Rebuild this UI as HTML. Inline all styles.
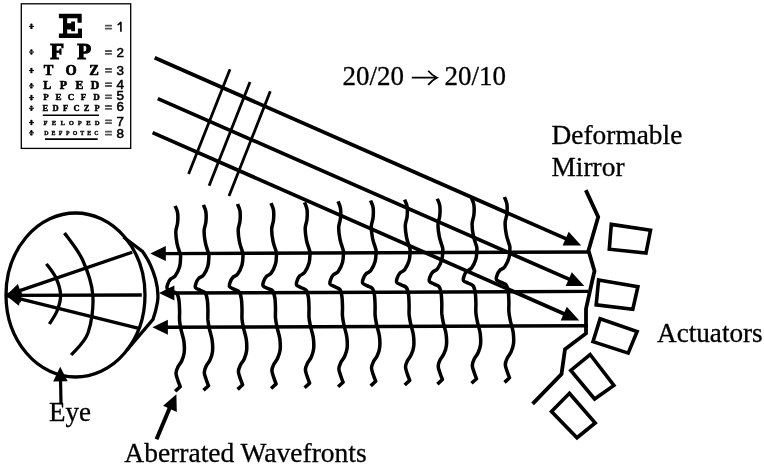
<!DOCTYPE html>
<html><head><meta charset="utf-8"><style>
html,body{margin:0;padding:0;background:#fff;}
body{width:764px;height:464px;overflow:hidden;font-family:"Liberation Serif",serif;}
svg{display:block;will-change:transform;}
</style></head><body>
<svg width="764" height="464" viewBox="0 0 764 464">
<rect width="764" height="464" fill="#fff"/>
<g stroke="#000" fill="none" stroke-linecap="butt">
<line x1="154.7" y1="57.8" x2="567.5" y2="239.4" stroke-width="3.7"/><polygon fill="#000" stroke="none" points="581.2,245.4 562.6,245.4 568.7,231.7"/>
<line x1="157.8" y1="98.6" x2="570.6" y2="279.9" stroke-width="3.7"/><polygon fill="#000" stroke="none" points="584.3,285.9 565.7,285.9 571.8,272.2"/>
<line x1="152.6" y1="132.6" x2="565.6" y2="314.5" stroke-width="3.7"/><polygon fill="#000" stroke="none" points="579.3,320.5 560.7,320.5 566.8,306.8"/>
<line x1="230.0" y1="69.3" x2="188.6" y2="173.9" stroke-width="2.8"/>
<line x1="250.0" y1="81.9" x2="209.1" y2="185.8" stroke-width="2.8"/>
<line x1="270.3" y1="91.3" x2="229.0" y2="195.9" stroke-width="2.8"/>
<line x1="588.0" y1="252.0" x2="163.3" y2="253.6" stroke-width="3.4"/>
<line x1="588.0" y1="291.4" x2="171.9" y2="293.0" stroke-width="3.4"/>
<line x1="588.0" y1="325.7" x2="165.4" y2="327.3" stroke-width="3.4"/>
</g>
<g fill="#000">
<polygon points="150.3,253.6 165.8,246.1 165.8,261.1"/>
<polygon points="158.9,293.0 174.4,285.5 174.4,300.5"/>
<polygon points="152.4,327.3 167.9,319.8 167.9,334.8"/>
</g>
<g stroke="#000" fill="none" stroke-width="3.5" stroke-linejoin="round">
<path d="M175.1,205.8 C175.5,206.9 177.2,209.9 177.6,212.8 C178.0,215.6 177.9,219.6 177.6,222.8 C177.3,225.9 175.9,228.3 175.8,231.8 C175.7,235.3 176.4,240.1 177.1,243.8 C177.8,247.4 179.5,251.5 180.1,253.8 C180.7,256.0 180.7,255.1 180.6,257.3 C180.5,259.4 180.5,263.7 179.6,266.8 C178.7,269.9 176.8,273.7 175.3,275.8 C173.8,277.9 171.7,277.9 170.4,279.3 C169.1,280.7 168.2,282.6 167.7,284.2 C167.2,285.7 166.5,287.3 167.2,288.5 C167.9,289.6 170.4,290.3 172.0,291.2 C173.6,292.1 175.7,292.2 176.9,293.8 C178.1,295.4 178.6,297.9 179.0,300.8 C179.4,303.6 179.5,307.4 179.6,310.8 C179.7,314.1 179.3,317.6 179.6,320.8 C179.8,323.9 180.4,326.4 181.1,329.8 C181.8,333.2 183.4,337.5 183.9,341.3 C184.4,345.1 184.5,349.3 184.2,352.6 C183.8,355.8 182.9,358.2 181.8,360.7 C180.7,363.1 178.8,365.1 177.8,367.2 C176.8,369.3 176.0,371.1 176.0,373.3 C176.0,375.4 177.1,377.9 177.8,380.1 C178.5,382.3 179.8,385.5 180.2,386.6 L175.2,391.2"/>
<path d="M203.4,204.9 C203.8,206.1 205.5,209.1 205.9,211.9 C206.3,214.7 206.2,218.7 205.9,221.9 C205.6,225.1 204.2,227.4 204.1,230.9 C204.0,234.4 204.7,239.2 205.4,242.9 C206.1,246.6 207.8,250.7 208.4,252.9 C209.0,255.2 209.0,254.2 208.9,256.4 C208.8,258.6 208.8,262.8 207.9,265.9 C207.0,269.0 205.1,272.8 203.6,274.9 C202.1,277.0 200.0,277.0 198.7,278.4 C197.4,279.8 196.5,281.8 196.0,283.3 C195.5,284.8 194.8,286.4 195.5,287.6 C196.2,288.8 198.7,289.4 200.3,290.3 C201.9,291.2 204.0,291.3 205.2,292.9 C206.4,294.5 206.9,297.1 207.3,299.9 C207.8,302.7 207.8,306.6 207.9,309.9 C208.0,313.2 207.7,316.7 207.9,319.9 C208.2,323.1 208.7,325.5 209.4,328.9 C210.1,332.3 211.7,336.6 212.2,340.4 C212.7,344.2 212.8,348.5 212.5,351.7 C212.2,354.9 211.2,357.4 210.1,359.8 C209.0,362.2 207.1,364.2 206.1,366.3 C205.1,368.4 204.3,370.2 204.3,372.4 C204.3,374.5 205.4,377.0 206.1,379.2 C206.8,381.4 208.1,384.6 208.5,385.7 L203.5,390.3"/>
<path d="M237.5,204.0 C237.9,205.2 239.6,208.2 240.0,211.0 C240.4,213.9 240.3,217.9 240.0,221.0 C239.7,224.2 238.3,226.5 238.2,230.0 C238.1,233.5 238.8,238.4 239.5,242.0 C240.2,245.7 241.9,249.8 242.5,252.0 C243.1,254.3 243.1,253.4 243.0,255.5 C242.9,257.7 242.9,261.9 242.0,265.0 C241.1,268.1 239.2,271.9 237.7,274.0 C236.2,276.1 234.1,276.1 232.8,277.5 C231.5,278.9 230.6,280.9 230.1,282.4 C229.6,284.0 228.9,285.6 229.6,286.7 C230.3,287.9 232.8,288.5 234.4,289.4 C236.0,290.3 238.1,290.4 239.3,292.0 C240.5,293.6 241.0,296.2 241.4,299.0 C241.8,301.9 241.9,305.7 242.0,309.0 C242.1,312.4 241.8,315.9 242.0,319.0 C242.2,322.2 242.8,324.6 243.5,328.0 C244.2,331.4 245.8,335.7 246.3,339.5 C246.8,343.3 246.9,347.6 246.6,350.8 C246.2,354.1 245.3,356.5 244.2,358.9 C243.1,361.4 241.2,363.3 240.2,365.4 C239.2,367.5 238.4,369.4 238.4,371.5 C238.4,373.7 239.5,376.1 240.2,378.3 C240.9,380.5 242.2,383.7 242.6,384.8 L237.6,389.4"/>
<path d="M271.0,203.1 C271.4,204.3 273.1,207.3 273.5,210.1 C273.9,213.0 273.8,217.0 273.5,220.1 C273.2,223.3 271.8,225.6 271.7,229.1 C271.6,232.6 272.3,237.5 273.0,241.1 C273.7,244.8 275.4,248.9 276.0,251.1 C276.6,253.4 276.6,252.5 276.5,254.6 C276.4,256.8 276.4,261.1 275.5,264.1 C274.6,267.2 272.7,271.1 271.2,273.1 C269.7,275.2 267.6,275.2 266.3,276.6 C265.0,278.0 264.1,280.0 263.6,281.5 C263.1,283.1 262.4,284.7 263.1,285.8 C263.8,287.0 266.3,287.7 267.9,288.5 C269.5,289.4 271.6,289.5 272.8,291.1 C274.0,292.7 274.4,295.3 274.9,298.1 C275.3,301.0 275.4,304.8 275.5,308.1 C275.6,311.5 275.2,315.0 275.5,318.1 C275.8,321.3 276.3,323.7 277.0,327.1 C277.7,330.6 279.3,334.8 279.8,338.6 C280.3,342.4 280.5,346.7 280.1,349.9 C279.8,353.2 278.8,355.6 277.7,358.0 C276.6,360.5 274.7,362.4 273.7,364.5 C272.7,366.6 271.9,368.5 271.9,370.6 C271.9,372.8 273.0,375.2 273.7,377.4 C274.4,379.7 275.7,382.9 276.1,383.9 L271.1,388.5"/>
<path d="M304.5,202.3 C304.9,203.4 306.6,206.4 307.0,209.3 C307.4,212.1 307.3,216.1 307.0,219.3 C306.7,222.4 305.3,224.8 305.2,228.3 C305.1,231.8 305.8,236.6 306.5,240.3 C307.2,243.9 308.9,248.0 309.5,250.3 C310.1,252.5 310.1,251.6 310.0,253.8 C309.9,255.9 309.9,260.2 309.0,263.3 C308.1,266.3 306.2,270.2 304.7,272.3 C303.2,274.3 301.1,274.4 299.8,275.8 C298.5,277.2 297.6,279.1 297.1,280.7 C296.6,282.2 295.9,283.8 296.6,285.0 C297.3,286.1 299.8,286.8 301.4,287.7 C303.0,288.5 305.1,288.7 306.3,290.3 C307.5,291.9 307.9,294.4 308.4,297.3 C308.8,300.1 308.9,303.9 309.0,307.3 C309.1,310.6 308.8,314.1 309.0,317.3 C309.2,320.4 309.8,322.8 310.5,326.3 C311.2,329.7 312.8,334.0 313.3,337.8 C313.8,341.6 314.0,345.8 313.6,349.1 C313.2,352.3 312.3,354.7 311.2,357.2 C310.1,359.6 308.2,361.6 307.2,363.7 C306.2,365.8 305.4,367.6 305.4,369.8 C305.4,371.9 306.5,374.3 307.2,376.6 C307.9,378.8 309.2,382.0 309.6,383.1 L304.6,387.7"/>
<path d="M338.0,201.4 C338.4,202.5 340.1,205.5 340.5,208.4 C340.9,211.2 340.8,215.2 340.5,218.4 C340.2,221.5 338.8,223.9 338.7,227.4 C338.6,230.9 339.3,235.7 340.0,239.4 C340.7,243.0 342.4,247.1 343.0,249.4 C343.6,251.6 343.6,250.7 343.5,252.9 C343.4,255.0 343.4,259.3 342.5,262.4 C341.6,265.5 339.7,269.3 338.2,271.4 C336.7,273.5 334.6,273.5 333.3,274.9 C332.0,276.3 331.1,278.2 330.6,279.8 C330.1,281.3 329.4,282.9 330.1,284.1 C330.8,285.2 333.3,285.9 334.9,286.8 C336.5,287.7 338.6,287.8 339.8,289.4 C341.0,291.0 341.4,293.5 341.9,296.4 C342.3,299.2 342.4,303.0 342.5,306.4 C342.6,309.7 342.2,313.2 342.5,316.4 C342.8,319.5 343.3,322.0 344.0,325.4 C344.7,328.8 346.3,333.1 346.8,336.9 C347.3,340.7 347.5,344.9 347.1,348.2 C346.8,351.4 345.8,353.8 344.7,356.3 C343.6,358.7 341.7,360.7 340.7,362.8 C339.7,364.9 338.9,366.7 338.9,368.9 C338.9,371.0 340.0,373.5 340.7,375.7 C341.4,377.9 342.7,381.1 343.1,382.2 L338.1,386.8"/>
<path d="M370.6,200.5 C371.0,201.7 372.7,204.7 373.1,207.5 C373.5,210.3 373.4,214.3 373.1,217.5 C372.8,220.7 371.4,223.0 371.3,226.5 C371.2,230.0 371.9,234.8 372.6,238.5 C373.3,242.2 375.0,246.2 375.6,248.5 C376.2,250.8 376.2,249.8 376.1,252.0 C376.0,254.2 376.0,258.4 375.1,261.5 C374.2,264.6 372.3,268.4 370.8,270.5 C369.3,272.6 367.2,272.6 365.9,274.0 C364.6,275.4 363.7,277.4 363.2,278.9 C362.7,280.4 362.0,282.0 362.7,283.2 C363.4,284.4 365.9,285.0 367.5,285.9 C369.1,286.8 371.2,286.9 372.4,288.5 C373.6,290.1 374.1,292.7 374.5,295.5 C374.9,298.3 375.0,302.2 375.1,305.5 C375.2,308.8 374.9,312.3 375.1,315.5 C375.4,318.7 375.9,321.1 376.6,324.5 C377.3,327.9 378.9,332.2 379.4,336.0 C379.9,339.8 380.1,344.1 379.7,347.3 C379.4,350.5 378.4,353.0 377.3,355.4 C376.2,357.8 374.3,359.8 373.3,361.9 C372.3,364.0 371.5,365.9 371.5,368.0 C371.5,370.1 372.6,372.6 373.3,374.8 C374.0,377.0 375.3,380.2 375.7,381.3 L370.7,385.9"/>
<path d="M404.6,199.6 C405.0,200.8 406.7,203.8 407.1,206.6 C407.5,209.5 407.4,213.5 407.1,216.6 C406.8,219.8 405.4,222.1 405.3,225.6 C405.2,229.1 405.9,234.0 406.6,237.6 C407.3,241.3 409.0,245.4 409.6,247.6 C410.2,249.9 410.2,249.0 410.1,251.1 C410.0,253.3 410.0,257.5 409.1,260.6 C408.2,263.7 406.3,267.5 404.8,269.6 C403.3,271.7 401.2,271.7 399.9,273.1 C398.6,274.5 397.7,276.5 397.2,278.0 C396.7,279.6 396.0,281.2 396.7,282.3 C397.4,283.5 399.9,284.1 401.5,285.0 C403.1,285.9 405.2,286.0 406.4,287.6 C407.6,289.2 408.1,291.8 408.5,294.6 C408.9,297.5 409.0,301.3 409.1,304.6 C409.2,308.0 408.9,311.5 409.1,314.6 C409.4,317.8 409.9,320.2 410.6,323.6 C411.3,327.0 412.9,331.3 413.4,335.1 C413.9,338.9 414.1,343.2 413.7,346.4 C413.4,349.7 412.4,352.1 411.3,354.5 C410.2,357.0 408.3,358.9 407.3,361.0 C406.3,363.1 405.5,365.0 405.5,367.1 C405.5,369.3 406.6,371.7 407.3,373.9 C408.0,376.1 409.3,379.3 409.7,380.4 L404.7,385.0"/>
<path d="M437.3,198.7 C437.7,199.9 439.4,202.9 439.8,205.7 C440.2,208.6 440.1,212.6 439.8,215.7 C439.5,218.9 438.1,221.2 438.0,224.7 C437.9,228.2 438.6,233.1 439.3,236.7 C440.0,240.4 441.7,244.5 442.3,246.7 C442.9,249.0 442.9,248.1 442.8,250.2 C442.7,252.4 442.7,256.7 441.8,259.7 C440.9,262.8 439.0,266.7 437.5,268.7 C436.0,270.8 433.9,270.8 432.6,272.2 C431.3,273.6 430.4,275.6 429.9,277.1 C429.4,278.7 428.7,280.3 429.4,281.4 C430.1,282.6 432.6,283.3 434.2,284.1 C435.8,285.0 437.9,285.1 439.1,286.7 C440.3,288.3 440.8,290.9 441.2,293.7 C441.6,296.6 441.7,300.4 441.8,303.7 C441.9,307.1 441.6,310.6 441.8,313.7 C442.1,316.9 442.6,319.3 443.3,322.7 C444.0,326.2 445.6,330.4 446.1,334.2 C446.6,338.0 446.8,342.3 446.4,345.5 C446.1,348.8 445.1,351.2 444.0,353.6 C442.9,356.1 441.0,358.0 440.0,360.1 C439.0,362.2 438.2,364.1 438.2,366.2 C438.2,368.4 439.3,370.8 440.0,373.0 C440.7,375.3 442.0,378.5 442.4,379.5 L437.4,384.1"/>
<path d="M471.4,197.9 C471.8,199.0 473.5,202.0 473.9,204.9 C474.3,207.7 474.2,211.7 473.9,214.9 C473.6,218.0 472.2,220.4 472.1,223.9 C472.0,227.4 472.7,232.2 473.4,235.9 C474.1,239.5 475.8,243.6 476.4,245.9 C477.0,248.1 477.0,247.2 476.9,249.4 C476.8,251.5 476.8,255.8 475.9,258.9 C475.0,261.9 473.1,265.8 471.6,267.9 C470.1,269.9 468.0,270.0 466.7,271.4 C465.4,272.8 464.5,274.7 464.0,276.3 C463.5,277.8 462.8,279.4 463.5,280.6 C464.2,281.7 466.7,282.4 468.3,283.3 C469.9,284.1 472.0,284.3 473.2,285.9 C474.4,287.5 474.8,290.0 475.3,292.9 C475.7,295.7 475.8,299.5 475.9,302.9 C476.0,306.2 475.6,309.7 475.9,312.9 C476.1,316.0 476.7,318.4 477.4,321.9 C478.1,325.3 479.7,329.6 480.2,333.4 C480.7,337.2 480.9,341.4 480.5,344.7 C480.1,347.9 479.2,350.3 478.1,352.8 C477.0,355.2 475.1,357.2 474.1,359.3 C473.1,361.4 472.3,363.2 472.3,365.4 C472.3,367.5 473.4,369.9 474.1,372.2 C474.8,374.4 476.1,377.6 476.5,378.7 L471.5,383.3"/>
<path d="M504.4,197.0 C504.8,198.1 506.5,201.1 506.9,204.0 C507.3,206.8 507.2,210.8 506.9,214.0 C506.6,217.1 505.2,219.5 505.1,223.0 C505.0,226.5 505.7,231.3 506.4,235.0 C507.1,238.6 508.8,242.7 509.4,245.0 C510.0,247.2 510.0,246.3 509.9,248.5 C509.8,250.6 509.8,254.9 508.9,258.0 C508.0,261.1 506.1,264.9 504.6,267.0 C503.1,269.1 501.0,269.1 499.7,270.5 C498.4,271.9 497.5,273.8 497.0,275.4 C496.5,276.9 495.8,278.5 496.5,279.7 C497.2,280.8 499.7,281.5 501.3,282.4 C502.9,283.3 505.0,283.4 506.2,285.0 C507.4,286.6 507.8,289.1 508.3,292.0 C508.7,294.8 508.8,298.6 508.9,302.0 C509.0,305.3 508.6,308.8 508.9,312.0 C509.1,315.1 509.7,317.6 510.4,321.0 C511.1,324.4 512.7,328.7 513.2,332.5 C513.7,336.3 513.9,340.5 513.5,343.8 C513.1,347.0 512.2,349.4 511.1,351.9 C510.0,354.3 508.1,356.3 507.1,358.4 C506.1,360.5 505.3,362.3 505.3,364.5 C505.3,366.6 506.4,369.1 507.1,371.3 C507.8,373.5 509.1,376.7 509.5,377.8 L504.5,382.4"/>
</g>
<polyline fill="none" stroke="#000" stroke-width="3.8" points="585.8,190.1 598.2,217.0 588.5,250.5 594.5,271.0 592.4,280.0 586.0,308.9 586.0,333.4 565.0,349.3 561.5,374.0 532.6,403.9"/>
<polygon fill="none" stroke="#000" stroke-width="3.6" stroke-linejoin="miter" points="611.3,224.4 650.5,230.3 646.0,253.0 609.3,249.2"/>
<polygon fill="none" stroke="#000" stroke-width="3.6" stroke-linejoin="miter" points="598.6,279.9 637.9,286.7 632.8,309.3 596.2,304.9"/>
<polygon fill="none" stroke="#000" stroke-width="3.6" stroke-linejoin="miter" points="600.1,318.7 637.1,331.5 628.2,353.1 593.0,341.7"/>
<polygon fill="none" stroke="#000" stroke-width="3.6" stroke-linejoin="miter" points="590.1,354.5 613.9,385.4 594.6,399.0 570.8,370.4"/>
<polygon fill="none" stroke="#000" stroke-width="3.6" stroke-linejoin="miter" points="569.4,393.3 595.2,423.0 577.0,437.7 551.5,411.5"/>
<g stroke="#000" fill="none" stroke-width="3.3">
<ellipse cx="75.5" cy="295" rx="69.5" ry="82"/>
<path d="M46.4,263.8 C48.0,266.2 53.6,272.8 56.0,278.0 C58.4,283.2 60.4,289.5 60.6,295.0 C60.8,300.5 58.9,306.2 57.0,311.0 C55.1,315.8 50.7,321.8 49.4,324.0"/>
<path d="M64.5,233.0 C67.5,237.5 77.9,249.7 82.6,260.0 C87.3,270.3 91.9,282.8 92.8,295.0 C93.7,307.2 91.6,323.0 88.0,333.0 C84.4,343.0 74.1,351.3 71.3,355.0"/>
<path d="M123.5,237 L142.5,251.5 Q151,263 155.5,279 Q159,292 157.5,302 Q156,311 153,319.4 L127,350"/>
<line x1="6.0" y1="295.4" x2="132.2" y2="252.2" stroke-width="3.3"/>
<line x1="6.0" y1="295.4" x2="141.8" y2="295.0" stroke-width="3.3"/>
<line x1="6.0" y1="295.4" x2="137.8" y2="328.2" stroke-width="3.3"/>
</g>
<g fill="#000">
<polygon points="6.0,295.4 17.9,283.9 22.5,297.2"/>
<polygon points="6.0,295.4 21.0,288.4 21.0,302.4"/>
<polygon points="6.0,295.4 22.2,292.2 18.9,305.8"/>
</g>
<g stroke="#000" fill="none" stroke-width="3"><line x1="61.0" y1="403.0" x2="60.5" y2="378.0" stroke-width="3.2"/></g>
<g fill="#000"><polygon points="60.2,366.8 67.7,381.2 53.2,381.4"/></g>
<g stroke="#000" fill="none"><line x1="156.5" y1="439.2" x2="170.5" y2="406.0" stroke-width="4"/></g>
<g fill="#000"><polygon points="176.4,394.2 176.8,411.9 163.1,405.8"/></g>
<rect x="21.3" y="3.8" width="109.4" height="144.6" fill="none" stroke="#000" stroke-width="1.3"/>
<g font-family="Liberation Serif" font-weight="bold" text-anchor="middle" fill="#000">
<text x="57.3" y="59.3" font-size="22.7" stroke="#000" stroke-width="1.14">F</text>
<text x="84.3" y="59.3" font-size="22.7" stroke="#000" stroke-width="1.14">P</text>
<text x="48.5" y="75.0" font-size="14.4" stroke="#000" stroke-width="0.72">T</text>
<text x="71" y="75.0" font-size="14.4" stroke="#000" stroke-width="0.72">O</text>
<text x="94" y="75.0" font-size="14.4" stroke="#000" stroke-width="0.72">Z</text>
<text x="47.2" y="88.8" font-size="11.8" stroke="#000" stroke-width="0.59">L</text>
<text x="63.4" y="88.8" font-size="11.8" stroke="#000" stroke-width="0.59">P</text>
<text x="79.5" y="88.8" font-size="11.8" stroke="#000" stroke-width="0.59">E</text>
<text x="95.1" y="88.8" font-size="11.8" stroke="#000" stroke-width="0.59">D</text>
<text x="45.9" y="100.4" font-size="9.0" stroke="#000" stroke-width="0.45">P</text>
<text x="58.4" y="100.4" font-size="9.0" stroke="#000" stroke-width="0.45">E</text>
<text x="71" y="100.4" font-size="9.0" stroke="#000" stroke-width="0.45">C</text>
<text x="83.5" y="100.4" font-size="9.0" stroke="#000" stroke-width="0.45">F</text>
<text x="96.6" y="100.4" font-size="9.0" stroke="#000" stroke-width="0.45">D</text>
<text x="45.4" y="110.8" font-size="8.5" stroke="#000" stroke-width="0.43">E</text>
<text x="55.6" y="110.8" font-size="8.5" stroke="#000" stroke-width="0.43">D</text>
<text x="65.5" y="110.8" font-size="8.5" stroke="#000" stroke-width="0.43">F</text>
<text x="76.5" y="110.8" font-size="8.5" stroke="#000" stroke-width="0.43">C</text>
<text x="86.5" y="110.8" font-size="8.5" stroke="#000" stroke-width="0.43">Z</text>
<text x="97" y="110.8" font-size="8.5" stroke="#000" stroke-width="0.43">P</text>
<text x="45.5" y="124.7" font-size="6.7" stroke="#000" stroke-width="0.34">F</text>
<text x="54.1" y="124.7" font-size="6.7" stroke="#000" stroke-width="0.34">E</text>
<text x="62.7" y="124.7" font-size="6.7" stroke="#000" stroke-width="0.34">L</text>
<text x="71.3" y="124.7" font-size="6.7" stroke="#000" stroke-width="0.34">O</text>
<text x="79.9" y="124.7" font-size="6.7" stroke="#000" stroke-width="0.34">P</text>
<text x="88.5" y="124.7" font-size="6.7" stroke="#000" stroke-width="0.34">E</text>
<text x="97.1" y="124.7" font-size="6.7" stroke="#000" stroke-width="0.34">D</text>
<text x="46.3" y="135.0" font-size="5.9" stroke="#000" stroke-width="0.30">D</text>
<text x="53.47" y="135.0" font-size="5.9" stroke="#000" stroke-width="0.30">E</text>
<text x="60.64" y="135.0" font-size="5.9" stroke="#000" stroke-width="0.30">F</text>
<text x="67.81" y="135.0" font-size="5.9" stroke="#000" stroke-width="0.30">P</text>
<text x="74.97999999999999" y="135.0" font-size="5.9" stroke="#000" stroke-width="0.30">O</text>
<text x="82.15" y="135.0" font-size="5.9" stroke="#000" stroke-width="0.30">T</text>
<text x="89.32" y="135.0" font-size="5.9" stroke="#000" stroke-width="0.30">E</text>
<text x="96.49" y="135.0" font-size="5.9" stroke="#000" stroke-width="0.30">C</text>
</g>
<path fill="#000" d="M58.9,13.8 H81.7 V22.8 H77.5 V18.3 H67.2 V23.3 H71.2 V21.6 H75 V31.3 H71.2 V29.6 H67.2 V33.4 H77.9 V28.6 H82 V37.9 H58.9 V33.4 H63 V18.3 H58.9 Z"/>
<line stroke="#000" x1="42.8" y1="115.3" x2="99.0" y2="115.3" stroke-width="1.6"/>
<line stroke="#000" x1="45.0" y1="139.1" x2="97.7" y2="139.1" stroke-width="1.6"/>
<g font-family="Liberation Sans" font-size="13.4" fill="#000" stroke="#000" stroke-width="0.55">
<text x="116.5" y="57">2</text>
<text x="116.5" y="75">3</text>
<text x="116.5" y="89.2">4</text>
<text x="116.5" y="100">5</text>
<text x="116.5" y="111.2">6</text>
<text x="116.5" y="125.7">7</text>
<text x="116.5" y="138">8</text>
</g>
<path d="M117.6,25 Q120,24 120.9,21.9 L120.9,31.7" stroke="#000" stroke-width="1.6" fill="none"/>
<g fill="#000" stroke="none">
<circle cx="31.4" cy="24.7" r="1.2"/><rect x="29" y="25.8" width="5" height="1.1"/><circle cx="31.4" cy="27.900000000000002" r="1.2"/>
<circle cx="31.4" cy="50.4" r="1.2"/><rect x="29" y="51.5" width="5" height="1.1"/><circle cx="31.4" cy="53.6" r="1.2"/>
<circle cx="31.4" cy="68.9" r="1.2"/><rect x="29" y="70.0" width="5" height="1.1"/><circle cx="31.4" cy="72.1" r="1.2"/>
<circle cx="31.4" cy="84.2" r="1.2"/><rect x="29" y="85.3" width="5" height="1.1"/><circle cx="31.4" cy="87.39999999999999" r="1.2"/>
<circle cx="31.4" cy="96.0" r="1.2"/><rect x="29" y="97.1" width="5" height="1.1"/><circle cx="31.4" cy="99.19999999999999" r="1.2"/>
<circle cx="31.4" cy="106.60000000000001" r="1.2"/><rect x="29" y="107.7" width="5" height="1.1"/><circle cx="31.4" cy="109.8" r="1.2"/>
<circle cx="31.4" cy="120.9" r="1.2"/><rect x="29" y="122.0" width="5" height="1.1"/><circle cx="31.4" cy="124.1" r="1.2"/>
<circle cx="31.4" cy="131.20000000000002" r="1.2"/><rect x="29" y="132.3" width="5" height="1.1"/><circle cx="31.4" cy="134.4" r="1.2"/>
</g>
<g fill="#555" stroke="none">
<rect x="105" y="24.8" width="7" height="1.8" rx="0.6"/><rect x="105" y="27.7" width="7" height="1.8" rx="0.6"/>
<rect x="105" y="50.1" width="7" height="1.8" rx="0.6"/><rect x="105" y="53.0" width="7" height="1.8" rx="0.6"/>
<rect x="105" y="68.1" width="7" height="1.8" rx="0.6"/><rect x="105" y="71.0" width="7" height="1.8" rx="0.6"/>
<rect x="105" y="82.19999999999999" width="7" height="1.8" rx="0.6"/><rect x="105" y="85.1" width="7" height="1.8" rx="0.6"/>
<rect x="105" y="94.39999999999999" width="7" height="1.8" rx="0.6"/><rect x="105" y="97.3" width="7" height="1.8" rx="0.6"/>
<rect x="105" y="105.1" width="7" height="1.8" rx="0.6"/><rect x="105" y="108.0" width="7" height="1.8" rx="0.6"/>
<rect x="105" y="119.39999999999999" width="7" height="1.8" rx="0.6"/><rect x="105" y="122.3" width="7" height="1.8" rx="0.6"/>
<rect x="105" y="130.79999999999998" width="7" height="1.8" rx="0.6"/><rect x="105" y="133.7" width="7" height="1.8" rx="0.6"/>
</g>
<g font-family="Liberation Serif" font-size="27" fill="#000" stroke="#000" stroke-width="0.3">
<text x="342.5" y="84.8">20/20</text><text x="444.5" y="84.8">20/10</text>
<path d="M411.8,77.7 L435.5,77.7 M428.2,70.8 Q432,75.5 437,77.7 Q432,80 428.2,84.9" stroke="#000" stroke-width="1.8" fill="none"/>
<text x="551.5" y="143.7" font-size="27.4">Deformable</text>
<text x="551.5" y="175.9" font-size="27.4">Mirror</text>
<text x="657" y="341.6" font-size="27.2">Actuators</text>
<text x="49" y="421.2">Eye</text>
<text x="124.3" y="461.6" font-size="27.5">Aberrated Wavefronts</text>
</g>
</svg>
</body></html>
